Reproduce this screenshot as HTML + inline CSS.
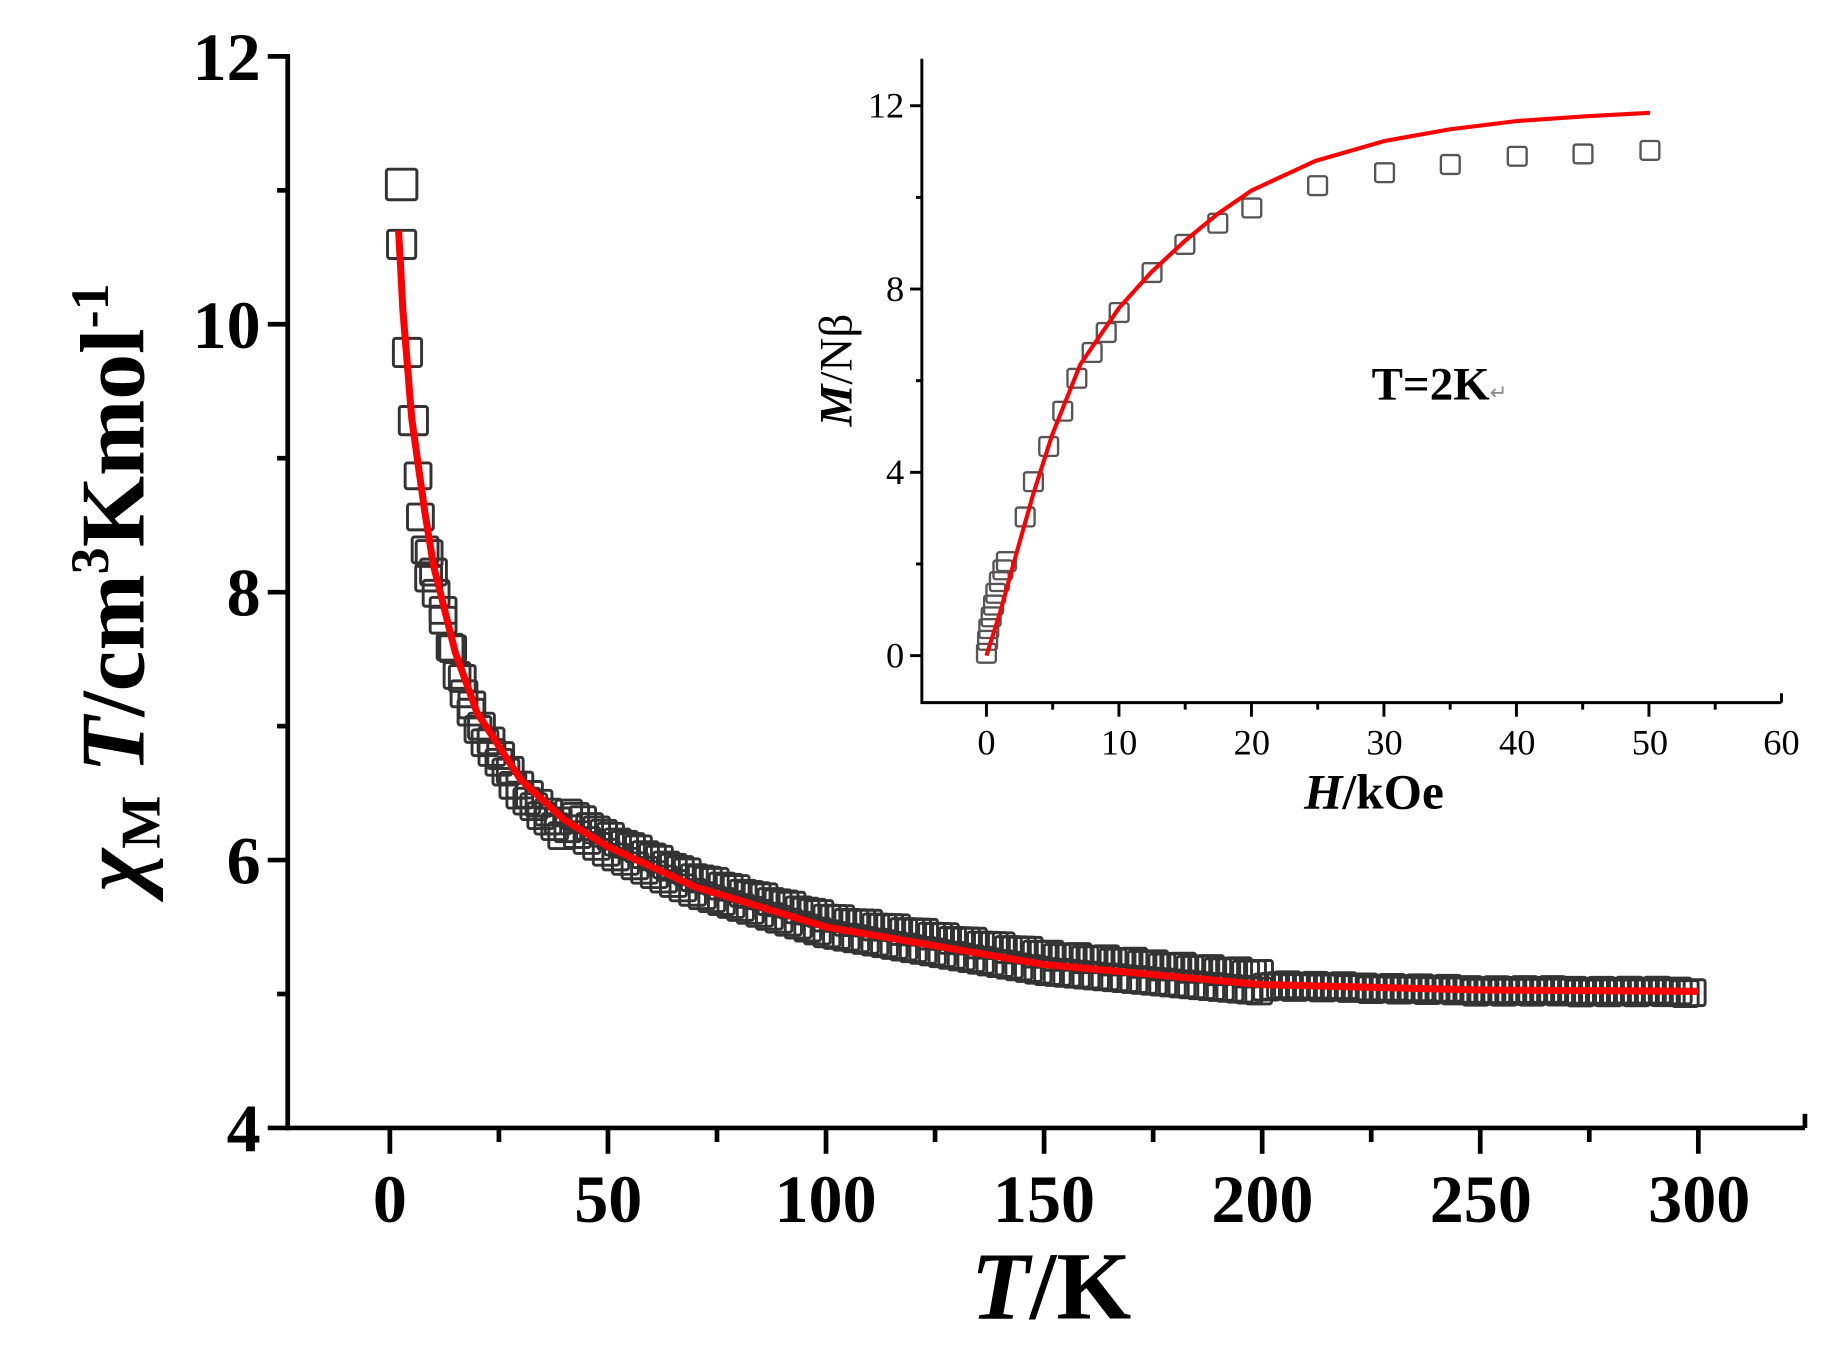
<!DOCTYPE html>
<html><head><meta charset="utf-8"><style>
html,body{margin:0;padding:0;background:#fff;}
svg{display:block;}
text{font-family:"Liberation Serif",serif;font-weight:bold;fill:#000;}
</style></head><body>
<svg id="s" width="1839" height="1350" viewBox="0 0 1566 1149" preserveAspectRatio="none" xmlns="http://www.w3.org/2000/svg">
<rect width="1566" height="1149" fill="#fff"/>
<g id="main" stroke="#000" stroke-width="4" fill="none">
  <line x1="245" y1="46" x2="245" y2="962"/>
  <line x1="243" y1="960" x2="1537" y2="960"/>
  <line x1="1537" y1="960" x2="1537" y2="948"/>
  <line x1="228" y1="48" x2="245" y2="48"/>
  <line x1="228" y1="276" x2="245" y2="276"/>
  <line x1="228" y1="504" x2="245" y2="504"/>
  <line x1="228" y1="732" x2="245" y2="732"/>
  <line x1="228" y1="960" x2="245" y2="960"/>
  <line x1="236" y1="162" x2="245" y2="162"/>
  <line x1="236" y1="390" x2="245" y2="390"/>
  <line x1="236" y1="618" x2="245" y2="618"/>
  <line x1="236" y1="846" x2="245" y2="846"/>
</g>
<g id="xt" stroke="#000" stroke-width="4"></g>
<g font-size="58" text-anchor="end">
  <text x="222" y="68">12</text>
  <text x="222" y="296">10</text>
  <text x="222" y="524">8</text>
  <text x="222" y="752">6</text>
  <text x="222" y="980">4</text>
</g>
<g font-size="58" text-anchor="middle">
  <text x="332" y="1040">0</text>
  <text x="518" y="1040">50</text>
  <text x="703" y="1040">100</text>
  <text x="889" y="1040">150</text>
  <text x="1075" y="1040">200</text>
  <text x="1261" y="1040">250</text>
  <text x="1447" y="1040">300</text>
</g>
<text x="895" y="1122" font-size="82" text-anchor="middle"><tspan font-style="italic">T</tspan>/K</text>
<text transform="translate(122,500) rotate(-90)" font-size="78" text-anchor="middle"><tspan font-style="italic">χ</tspan><tspan font-size="48" dy="14">M</tspan><tspan dy="-14" font-style="italic"> T</tspan>/cm<tspan font-size="46" dy="-30">3</tspan><tspan dy="30">Kmol</tspan><tspan font-size="46" dy="-30">-1</tspan></text>
<g id="sq" fill="none" stroke="#333" stroke-width="2.5"></g>
<path id="red" fill="none" stroke="#f00" stroke-width="6" stroke-linejoin="round"/>

<!-- inset -->
<g stroke="#000" stroke-width="2.5" fill="none">
  <line x1="785" y1="50" x2="785" y2="599"/>
  <line x1="784" y1="598" x2="1517" y2="598"/>
  <line x1="1517" y1="598" x2="1517" y2="590"/>
  <line x1="775" y1="90" x2="785" y2="90"/>
  <line x1="775" y1="246" x2="785" y2="246"/>
  <line x1="775" y1="402" x2="785" y2="402"/>
  <line x1="775" y1="558" x2="785" y2="558"/>
  <line x1="780" y1="168" x2="785" y2="168"/>
  <line x1="780" y1="324" x2="785" y2="324"/>
  <line x1="780" y1="480" x2="785" y2="480"/>
</g>
<g id="ixt" stroke="#000" stroke-width="2.5"></g>
<g font-size="31" text-anchor="end">
  <text x="770" y="100" style="font-weight:normal">12</text>
  <text x="770" y="256" style="font-weight:normal">8</text>
  <text x="770" y="412" style="font-weight:normal">4</text>
  <text x="770" y="568" style="font-weight:normal">0</text>
</g>
<g font-size="31" text-anchor="middle">
  <text x="840" y="642" style="font-weight:normal">0</text>
  <text x="953" y="642" style="font-weight:normal">10</text>
  <text x="1066" y="642" style="font-weight:normal">20</text>
  <text x="1179" y="642" style="font-weight:normal">30</text>
  <text x="1292" y="642" style="font-weight:normal">40</text>
  <text x="1405" y="642" style="font-weight:normal">50</text>
  <text x="1517" y="642" style="font-weight:normal">60</text>
</g>
<text x="1170" y="688" font-size="42" text-anchor="middle"><tspan font-style="italic">H</tspan>/kOe</text>
<text transform="translate(725,315) rotate(-90)" font-size="40" text-anchor="middle"><tspan font-style="italic">M</tspan><tspan style="font-weight:normal">/Nβ</tspan></text>
<text x="1168" y="340" font-size="40">T=2K<tspan font-size="18" style="font-weight:normal" fill="#888">↵</tspan></text>
<g id="isq" fill="none" stroke="#555" stroke-width="2"></g>
<path id="ired" fill="none" stroke="#f00" stroke-width="3.5" stroke-linejoin="round"/>
</svg>
<script>
var NS="http://www.w3.org/2000/svg";
function el(p,t,a){var e=document.createElementNS(NS,t);for(var k in a)e.setAttribute(k,a[k]);p.appendChild(e);return e;}
var xt=document.getElementById('xt');
for(var v=-25;v<=325;v+=25){var x=332+v*3.714;if(x<246||x>1536)continue;var maj=(v%50===0);el(xt,'line',{x1:x,y1:960,x2:x,y2:maj?982:972});}
var ixt=document.getElementById('ixt');
for(var v=-5;v<=60;v+=5){var x=840+v*11.283;if(x<786||x>1516)continue;var maj=(v%10===0);el(ixt,'line',{x1:x,y1:598,x2:x,y2:maj?610:604});}
var pts=[[2,10.7],[3,10.1],[5,9.3],[8,8.6],[10,8.2],[15,7.55],[20,7.1],[30,6.6],[40,6.3],[50,6.1],[70,5.8],[100,5.5],[150,5.22],[200,5.07],[250,5.03],[300,5.02]];
function f(T){for(var i=0;i<pts.length-1;i++){if(T<=pts[i+1][0]){var a=pts[i],b=pts[i+1],t=(T-a[0])/(b[0]-a[0]);return a[1]+t*(b[1]-a[1]);}}return 5.0;}
function X(T){return 332+T*3.714;} function Y(v){return 960-(v-4)*114;}
var d="";for(var T=2;T<=300;T+=0.5){d+=(d?"L":"M")+X(T).toFixed(1)+","+Y(f(T)).toFixed(1);}
document.getElementById('red').setAttribute('d',d);
var sq=document.getElementById('sq');
function box(g,cx,cy,s){el(g,'rect',{x:cx-s/2,y:cy-s/2,width:s,height:s,rx:2});}
var lows=[[342,157,26],[342,208,24],[347,300,24],[352,358,24],[356,405,22],[358,440,22],[362,468,22],[365,492,22]];
lows.forEach(function(p){box(sq,p[0],p[1],p[2]);});
for(var T=9;T<=300;T+=1.6){var off=(T<40)?-0.12:(T<200?0.08:0.0);box(sq,X(T),Y(f(T)+off)+((T*7)%3-1),22);}
for(var T=10;T<=200;T+=2.2){box(sq,X(T),Y(f(T)-0.05),22);}
var isq=document.getElementById('isq');
var ip=[[840,556],[841,545],[842,535],[844,525],[846,515],[848,505],[851,495],[854,485],[857,478],[873,440],[880,410],[893,380],[905,350],[917,322],[930,300],[942,283],[953,266],[981,232],[1009,208],[1037,190],[1066,177],[1122,158],[1179,147],[1235,140],[1292,133],[1348,131],[1405,128]];
ip.forEach(function(p){box(isq,p[0],p[1],16);});
var ir=[[840,558],[852,520],[863,480],[880,420],[896,370],[920,310],[953,262],[980,232],[1009,205],[1037,182],[1066,162],[1120,137],[1179,120],[1235,110],[1292,103],[1350,99],[1405,96]];
var di="";ir.forEach(function(p,i){di+=(i?"L":"M")+p[0]+","+p[1];});
document.getElementById('ired').setAttribute('d',di);
</script>
</body></html>
